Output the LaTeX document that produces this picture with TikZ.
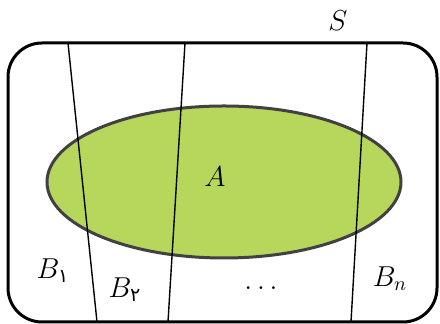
\documentclass[tikz,border=0pt]{standalone}
\usepackage{fontspec}
\newfontfamily\persianfont[Script=Arabic]{DejaVu Sans}
\newcommand{\fa}[1]{\mbox{\persianfont\fontsize{9.5}{11}\selectfont #1}}
\definecolor{setgreen}{HTML}{B6D65C}
\definecolor{rimgray}{HTML}{414143}

\begin{document}
\begin{tikzpicture}[x=0.5pt, y=-0.5pt, font=\fontsize{14.5}{17}\selectfont,
    cut/.style={line width=0.7pt}]
  \useasboundingbox (0,0) rectangle (440,324);
  \draw[line width=1.5pt, rounded corners=17pt] (8,43) rectangle (437,322);
  \fill[setgreen, draw=rimgray, line width=1.5pt]
    (224,182) ellipse [x radius=177, y radius=76];
  % the partition B_1, B_2, ..., B_n
  \coordinate (t1) at (68,43);  \coordinate (b1) at (97,322);
  \coordinate (t2) at (185,43); \coordinate (b2) at (168,322);
  \coordinate (t3) at (367,43); \coordinate (b3) at (351,322);
  \foreach \i in {1,2,3} { \draw[cut] (t\i) -- (b\i); }
  \node (s) at (338,21) {$S$};
  \node (a) at (215,177) {$A$};
  \node (B1) at (53,271) {$B_{\fa{۱}}$};
  \node (B2) at (125,290) {$B_{\fa{۲}}$};
  \node (dots) at (261,288) {$\dots$};
  \node (Bn) at (390,279) {$B_n$};
\end{tikzpicture}
\end{document}
